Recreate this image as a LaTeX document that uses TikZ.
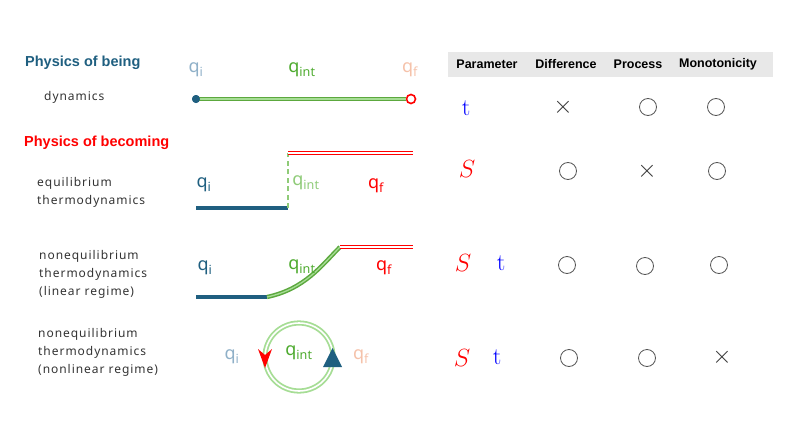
\documentclass[tikz,border=0pt]{standalone}
\usepackage{fontspec}
\newfontfamily\bodyf[LetterSpace=8]{Noto Sans}
\newfontfamily\headf{Liberation Sans}
\newfontfamily\qfont{Noto Sans}
\usetikzlibrary{arrows.meta}
\definecolor{pblue}{HTML}{1F5F80}
\definecolor{lblue}{HTML}{8FB0C8}
\definecolor{peach}{HTML}{F5C2AA}
\definecolor{qgreen}{HTML}{4DAA2E}
\definecolor{lgreen}{HTML}{8FCB78}
\definecolor{pgreen}{HTML}{A6DD95}
\definecolor{dgreen}{HTML}{5CA83E}
\definecolor{hgray}{HTML}{E8E8E8}
\definecolor{txt}{HTML}{333333}
\definecolor{mark}{HTML}{555555}
\newcommand\qlab[1]{{\qfont q\textsubscript{#1}}}
\tikzset{
  head/.style={font=\headf\bfseries\fontsize{14.5}{17}\selectfont, inner sep=0pt, anchor=west},
  body/.style={font=\bodyf\fontsize{12}{18}\selectfont, text=txt, inner sep=0pt, anchor=west, align=left},
  colhead/.style={font=\headf\bfseries\fontsize{12.5}{14}\selectfont, inner sep=0pt},
  qnode/.style={font=\fontsize{18}{20}\selectfont, inner sep=0pt},
  ok/.style={circle, draw=mark, line width=0.8pt, minimum size=17pt, inner sep=0pt},
  no/.style={font=\fontsize{23}{23}\selectfont, text=txt, inner sep=0pt},
  par/.style={font=\fontsize{24}{24}\selectfont, inner sep=0pt},
  blueline/.style={draw=pblue, line width=3.5pt},
  redline/.style={draw=red, line width=1.4pt, double=white, double distance=1.3pt},
  greenline/.style={draw=dgreen, line width=1.5pt, double=pgreen, double distance=1.3pt},
}
\begin{document}
\begin{tikzpicture}[x=1pt,y=-1pt]
\useasboundingbox (0,0) rectangle (785,442);

% left labels
\node[head, text=pblue] (h1) at (25,63) {Physics of being};
\node[body] (dyn) at (44,97) {dynamics};
\node[head, text=red] (h2) at (24,143) {Physics of becoming};
\node[body] (eq) at (37,192) {equilibrium\\thermodynamics};
\node[body] (lin) at (39,274) {nonequilibrium\\thermodynamics\\(linear regime)};
\node[body] (nl) at (38,352) {nonequilibrium\\thermodynamics\\(nonlinear regime)};

% table header
\fill[hgray] (448,52) rectangle (773,77);
\node[colhead] (c1) at (487,64) {Parameter};
\node[colhead] (c2) at (566,64) {Difference};
\node[colhead] (c3) at (638,64) {Process};
\node[colhead] (c4) at (718,64) {Monotonicity};

% row 1 diagram
\node[qnode, text=lblue] (q1i) at (196,70) {\qlab{i}};
\node[qnode, text=qgreen] (q1m) at (302,70) {\qlab{int}};
\node[qnode, text=peach] (q1f) at (410,70) {\qlab{f}};
\node[circle, fill=pblue, minimum size=8pt, inner sep=0pt] (d1) at (196,99) {};
\node[circle, draw=red, fill=white, line width=1.6pt, minimum size=9pt, inner sep=0pt] (e1) at (411,99) {};
\draw[greenline] (d1.center) -- (e1.west);
\node[circle, fill=pblue, minimum size=8pt, inner sep=0pt] at (196,99) {};

% row 2 diagram
\coordinate (a2) at (196,208);
\coordinate (b2) at (288,208);
\coordinate (c2p) at (288,153);
\coordinate (d2) at (413,153);
\draw[blueline] (a2) -- (b2);
\draw[lgreen, line width=2.6pt, dash pattern=on 5pt off 3.5pt] (b2) -- (c2p);
\draw[redline] (c2p) -- (d2);
\node[qnode, text=pblue] (q2i) at (204,185) {\qlab{i}};
\node[qnode, text=lgreen] (q2m) at (306,183) {\qlab{int}};
\node[qnode, text=red] (q2f) at (376,186) {\qlab{f}};

% row 3 diagram
\coordinate (a3) at (196,297);
\coordinate (b3) at (267,297);
\coordinate (c3p) at (340,247);
\coordinate (d3) at (413,247);
\draw[blueline] (a3) -- (b3);
\draw[greenline] (b3) .. controls (305,289) and (322,265) .. (c3p);
\draw[redline] (c3p) -- (d3);
\node[qnode, text=pblue] (q3i) at (205,268) {\qlab{i}};
\node[qnode, text=qgreen] (q3m) at (302,267) {\qlab{int}};
\node[qnode, text=red] (q3f) at (384,268) {\qlab{f}};

% row 4 diagram
\node[circle, draw=pgreen, line width=1.8pt, double=white, double distance=1.6pt, minimum size=68pt, inner sep=0pt] (ring) at (299,357) {};
\fill[red] (265,368) -- (258,349) -- (265,355) -- (272,349) -- cycle;
\fill[pblue] (323,367) -- (342,367) -- (332.5,348) -- cycle;
\node[qnode, text=lblue] (q4i) at (232,357) {\qlab{i}};
\node[qnode, text=qgreen] (q4m) at (299,353) {\qlab{int}};
\node[qnode, text=peach] (q4f) at (361,357) {\qlab{f}};

% table rows
\node[par, text=blue] (p1) at (466,108) {$\mathrm{t}$};
\node[no] (r1a) at (563,107) {$\times$};
\node[ok] (r1b) at (648,107) {};
\node[ok] (r1c) at (716,107) {};

\node[par, text=red] (p2) at (467,169) {$S$};
\node[ok] (r2a) at (568,171) {};
\node[no] (r2b) at (647,171) {$\times$};
\node[ok] (r2c) at (717,171) {};

\node[par, text=red] (p3a) at (463,263) {$S$};
\node[par, text=blue] (p3b) at (501,263) {$\mathrm{t}$};
\node[ok] (r3a) at (567,265) {};
\node[ok] (r3b) at (645,266) {};
\node[ok] (r3c) at (719,265) {};

\node[par, text=red] (p4a) at (462,358) {$S$};
\node[par, text=blue] (p4b) at (497,357) {$\mathrm{t}$};
\node[ok] (r4a) at (569,358) {};
\node[ok] (r4b) at (647,358) {};
\node[no] (r4c) at (722,357) {$\times$};
\end{tikzpicture}
\end{document}
